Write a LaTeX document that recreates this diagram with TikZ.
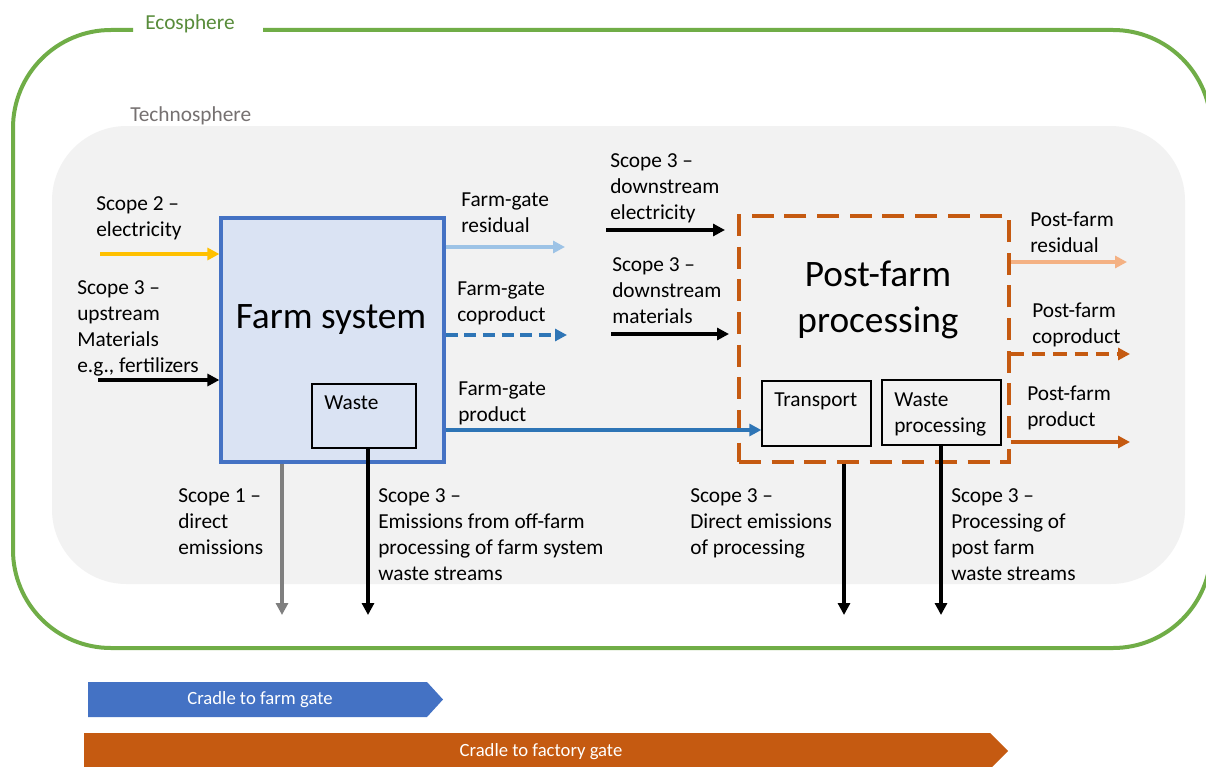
\documentclass[tikz,border=0pt]{standalone}
\usepackage{fontspec}
\setmainfont{Carlito}
\usetikzlibrary{arrows.meta}
\definecolor{ecogreen}{HTML}{70AD47}
\definecolor{ecotext}{RGB}{88,140,58}
\definecolor{techfill}{HTML}{F2F2F2}
\definecolor{techtext}{HTML}{767171}
\definecolor{farmblue}{HTML}{4472C4}
\definecolor{farmfill}{HTML}{DAE3F3}
\definecolor{flowblue}{HTML}{2E75B6}
\definecolor{lightblue}{HTML}{9DC3E6}
\definecolor{elecyellow}{HTML}{FFC000}
\definecolor{procorange}{HTML}{C55A11}
\definecolor{lightorange}{HTML}{F4B183}
\definecolor{emisgray}{HTML}{7F7F7F}
\begin{document}
\begin{tikzpicture}[x=0.75pt,y=-0.75pt,
  lbl/.style={font=\fontsize{16}{19.5}\selectfont, align=left, anchor=north west, inner sep=0pt},
  big/.style={font=\fontsize{28}{34}\selectfont, align=center, inner sep=0pt},
  flow/.style={line width=2.3pt, -{Triangle[length=9pt,width=9pt]}},
  subbox/.style={draw=black, line width=1pt, inner sep=0pt},
  bartext/.style={font=\fontsize{14}{16}\selectfont, text=white, inner sep=0pt}]

\clip (0,0) rectangle (1206,767);
\fill[white] (0,0) rectangle (1206,767);

% ecosphere boundary with a gap for its title
\draw[ecogreen, line width=3pt, rounded corners=73.5pt]
  (133,30) -- (13,30) -- (13,648) -- (1211,648) -- (1211,30) -- (263,30);
\node[anchor=base west, inner sep=0pt, text=ecotext, font=\fontsize{16}{19.5}\selectfont] (eco) at (145,30) {Ecosphere};

% technosphere background
\fill[techfill, rounded corners=56pt] (52,126) rectangle (1185,584);
\node[anchor=base west, inner sep=0pt, text=techtext, font=\fontsize{16}{19.5}\selectfont] (tech) at (130,122) {Technosphere};

% farm system
\node[draw=farmblue, fill=farmfill, line width=2.4pt, minimum width=167.25pt, minimum height=183pt, inner sep=0pt] (farm) at (332.5,340) {};
\node[big, anchor=base] (farmtitle) at (331,328) {Farm system};
\node[subbox, minimum width=78pt, minimum height=48pt] (waste) at (364,416) {};
\node[lbl] (wastetxt) at (324,396) {Waste};

% post-farm processing
\node[draw=procorange, line width=2.4pt, dash pattern=on 16.5pt off 8pt, minimum width=202.5pt, minimum height=184.5pt, inner sep=0pt] (post) at (874,339) {};
\node[big, anchor=north] (posttitle) at (878,261) {Post-farm\\processing};
\node[subbox, minimum width=81.75pt, minimum height=48.75pt] (transport) at (816.5,413.5) {};
\node[lbl] (transtxt) at (774,393) {Transport};
\node[subbox, minimum width=89.25pt, minimum height=48.75pt] (wproc) at (941.5,412.5) {};
\node[lbl] (wproctxt) at (894,393) {Waste\\processing};

% free ends of the flows
\coordinate (s2a) at (100,254);
\coordinate (s3a) at (98,380);
\coordinate (resb) at (565,247);
\coordinate (copb) at (567,335);
\coordinate (prody) at (0,430);
\coordinate (dea) at (606,230);
\coordinate (deb) at (725,230);
\coordinate (dma) at (611,334);
\coordinate (dmb) at (729,334);
\coordinate (pfrb) at (1127,262);
\coordinate (pfcb) at (1130,354);
\coordinate (pfpb) at (1130,442);
\coordinate (s1b) at (282,615);
\coordinate (s3wb) at (368,615);
\coordinate (s3db) at (844,615);
\coordinate (s3pb) at (941,615);

% inputs to the farm
\draw[flow, elecyellow] (s2a) -- (s2a -| farm.west);
\draw[flow, black] (s3a) -- (s3a -| farm.west);

% farm-gate outputs
\draw[flow, lightblue] (farm.east |- resb) -- (resb);
\draw[flow, flowblue, dash pattern=on 9pt off 5pt] (farm.east |- copb) -- (copb);
\draw[flow, flowblue] (farm.east |- prody) -- (prody -| transport.west);

% downstream inputs
\draw[flow, black] (dea) -- (deb);
\draw[flow, black] (dma) -- (dmb);

% post-farm outputs
\draw[flow, lightorange] (post.east |- pfrb) -- (pfrb);
\draw[flow, procorange, dash pattern=on 10pt off 6pt] (post.east |- pfcb) -- (pfcb);
\draw[flow, procorange] (post.east |- pfpb) -- (pfpb);

% emissions
\draw[flow, emisgray] (s1b |- farm.south) -- (s1b);
\draw[flow, black] (s3wb |- waste.south) -- (s3wb);
\draw[flow, black] (s3db |- post.south) -- (s3db);
\draw[flow, black] (s3pb |- wproc.south) -- (s3pb);

% flow labels
\node[lbl] (s2lab) at (96,196) {Scope 2 –\\electricity};
\node[lbl] (s3uplab) at (77,280) {Scope 3 –\\upstream\\Materials\\e.g., fertilizers};
\node[lbl] (reslab) at (461,193) {Farm-gate\\residual};
\node[lbl] (coplab) at (457,282) {Farm-gate\\coproduct};
\node[lbl] (prodlab) at (458,382) {Farm-gate\\product};
\node[lbl] (delab) at (610,153) {Scope 3 –\\downstream\\electricity};
\node[lbl] (dmlab) at (612,257) {Scope 3 –\\downstream\\materials};
\node[lbl] (pfrlab) at (1030,212) {Post-farm\\residual};
\node[lbl] (pfclab) at (1032,303) {Post-farm\\coproduct};
\node[lbl] (pfplab) at (1027,386) {Post-farm\\product};
\node[lbl] (s1lab) at (178,488) {Scope 1 –\\direct\\emissions};
\node[lbl] (s3wlab) at (378,488) {Scope 3 –\\Emissions from off-farm\\processing of farm system\\waste streams};
\node[lbl] (s3dlab) at (690,488) {Scope 3 –\\Direct emissions\\of processing};
\node[lbl] (s3plab) at (951,488) {Scope 3 –\\Processing of\\post farm\\waste streams};

% system boundaries
\fill[farmblue] (88,682) -- (427,682) -- (443,699.5) -- (427,717) -- (88,717) -- cycle;
\node[bartext] (cfg) at (260,700) {Cradle to farm gate};
\fill[procorange] (84,733) -- (990,733) -- (1008,751) -- (990,769) -- (84,769) -- cycle;
\node[bartext] (cfac) at (541,752) {Cradle to factory gate};
\end{tikzpicture}
\end{document}
